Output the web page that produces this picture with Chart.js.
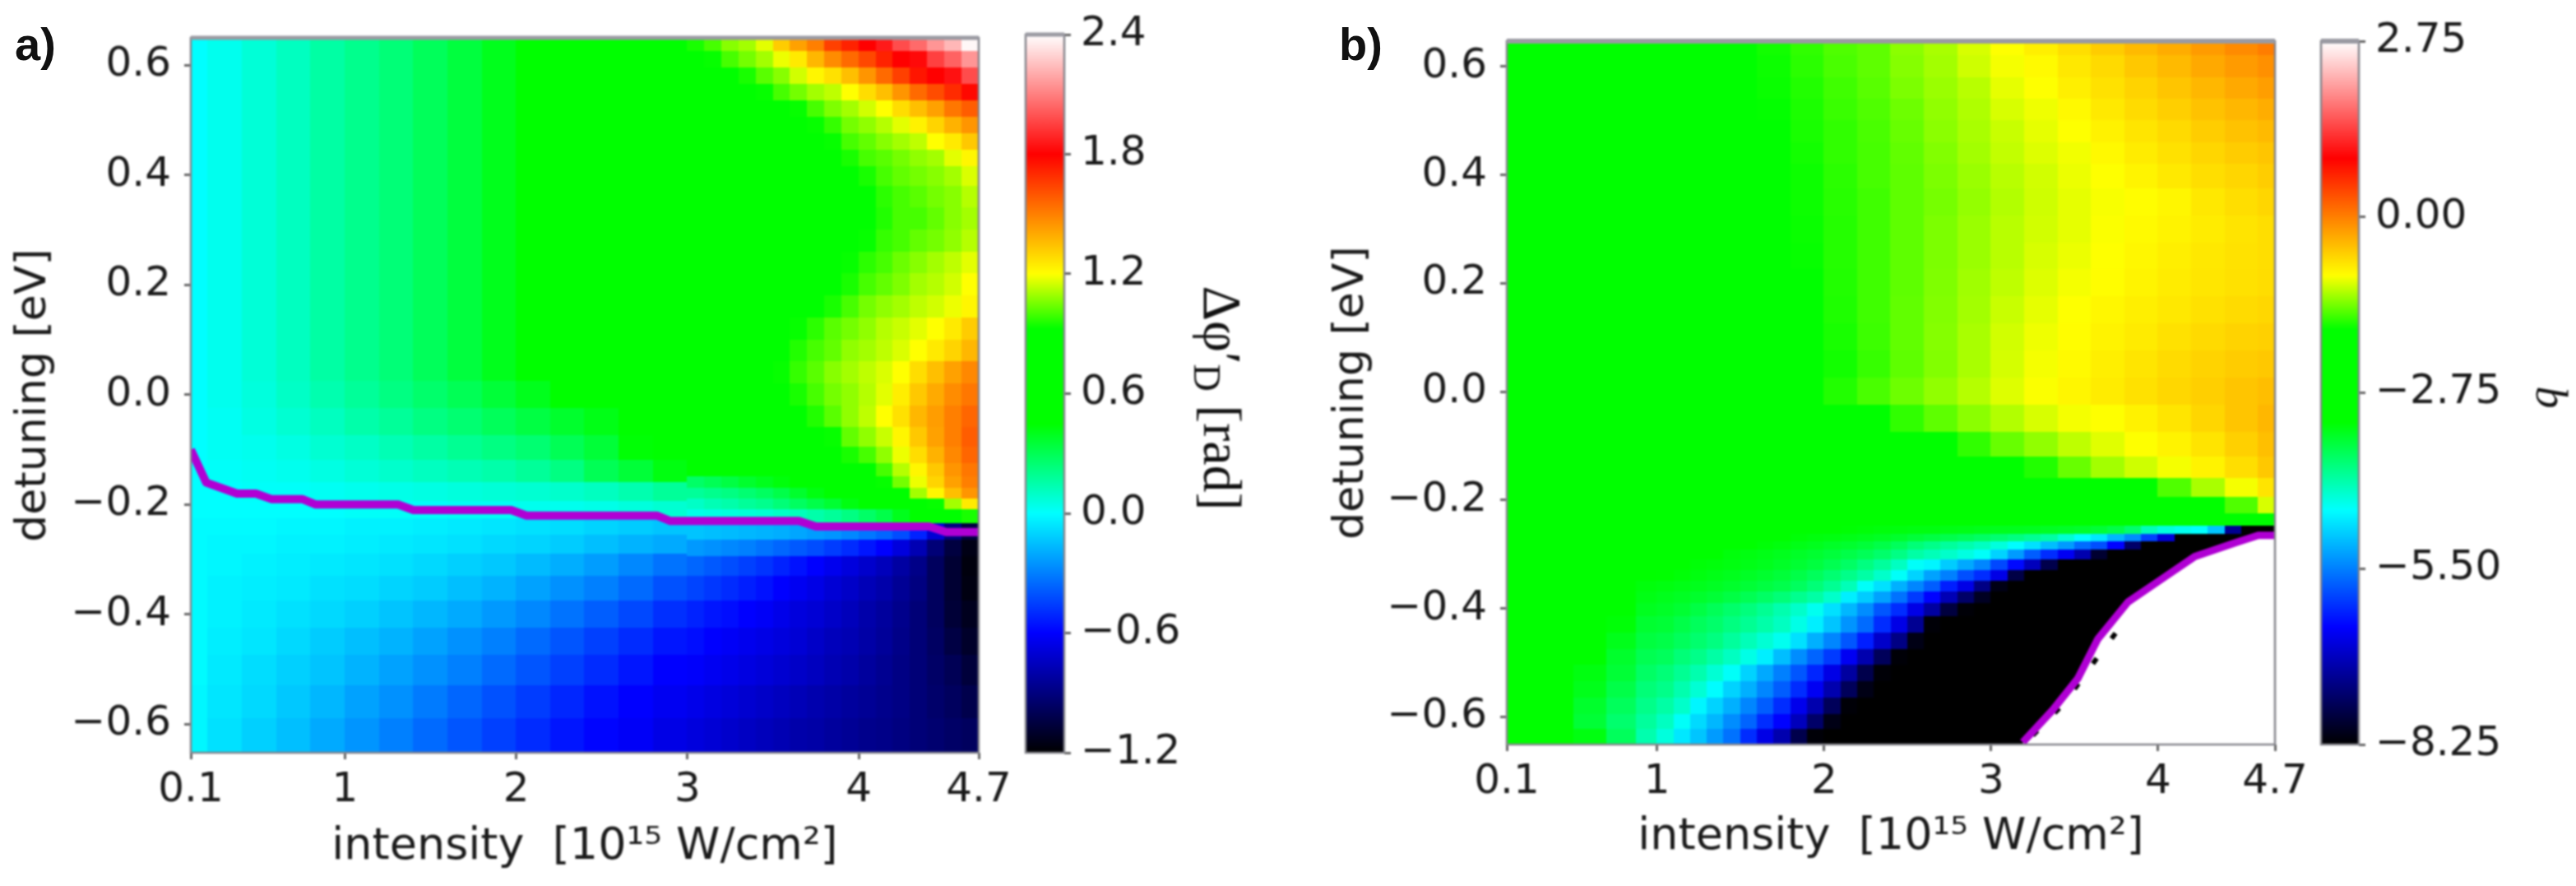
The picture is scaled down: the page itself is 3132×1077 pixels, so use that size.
<!DOCTYPE html>
<html>
<head>
<meta charset="utf-8">
<title>Detuning vs intensity maps</title>
<script src="https://cdn.jsdelivr.net/npm/chart.js@4/dist/chart.umd.min.js"></script>
<style>
  html, body { margin: 0; background: #fff; }
  body { position: relative; width: 3132px; height: 1077px; overflow: hidden; }
  canvas { position: absolute; top: 0; filter: blur(1.1px); }
  .tag { position: absolute; top: 21px; font: bold 56px "Liberation Sans"; color: #111; }
</style>
</head>
<body>
<canvas id="mapA" width="1240" height="1077" style="left:0"></canvas>
<canvas id="barA" width="360" height="1077" style="left:1240px"></canvas>
<canvas id="mapB" width="1216" height="1077" style="left:1600px"></canvas>
<canvas id="barB" width="316" height="1077" style="left:2816px"></canvas>
<div class="tag" style="left:18px">a)</div>
<div class="tag" style="left:1628px">b)</div>
<script>
const intensityTicks = [0.1,1,2,3,4,4.7];
const detuningTicks = [-0.6,-0.4,-0.2,0,0.2,0.4,0.6];
const phiTicks = [-1.2,-0.6,0,0.6,1.2,1.8,2.4];
const bTicks = [-8.25,-5.5,-2.75,0,2.75];

// panel a, left part (read coarser, it is smooth there)
const intensityA1 = [0.1,0.3,0.5,0.7,0.9,1.1,1.3,1.5,1.7,1.9,2.1,2.3,2.5,2.7,2.9];
const detuningA1 = [0.64,0.60,0.56,0.52,0.48,0.44,0.40,0.35,0.30,0.25,0.20,0.15,0.10,0.05,0.00,-0.05,-0.10,-0.14,-0.18,-0.21,-0.24,-0.27,-0.31,-0.35,-0.40,-0.45,-0.50,-0.56,-0.62];
const phiLeftRows = [
[0,.03,.07,.11,.16,.2,.24,.29,.34,.4,.46,.52,.6,.65,.75],
[0,.03,.07,.11,.16,.2,.24,.29,.34,.4,.46,.52,.6,.65,.7],
[0,.03,.07,.11,.16,.2,.24,.29,.34,.4,.46,.52,.6,.65,.7],
[0,.03,.07,.11,.16,.2,.24,.29,.34,.4,.46,.52,.6,.65,.7],
[0,.03,.07,.11,.16,.2,.24,.29,.34,.4,.46,.52,.6,.65,.7],
[0,.03,.07,.11,.16,.2,.24,.29,.34,.4,.46,.52,.6,.65,.7],
[0,.03,.07,.11,.16,.2,.24,.29,.34,.4,.46,.52,.6,.65,.7],
[0,.03,.07,.11,.16,.2,.24,.29,.34,.4,.46,.52,.6,.65,.7],
[0,.03,.07,.11,.16,.2,.24,.29,.34,.4,.46,.52,.6,.65,.7],
[0,.03,.07,.11,.16,.2,.24,.29,.34,.4,.46,.52,.6,.65,.7],
[0,.03,.07,.11,.16,.2,.24,.29,.34,.4,.46,.52,.6,.65,.7],
[0,.03,.07,.11,.16,.2,.24,.29,.34,.4,.46,.52,.6,.65,.7],
[0,.03,.07,.11,.16,.2,.24,.29,.34,.4,.46,.52,.6,.65,.7],
[0,.03,.07,.11,.16,.2,.24,.29,.34,.4,.46,.52,.6,.65,.7],
[0,.03,.06,.1,.14,.18,.22,.26,.3,.35,.4,.45,.5,.6,.65],
[0,.02,.05,.08,.11,.15,.18,.22,.25,.29,.33,.37,.41,.46,.52],
[0,.02,.03,.05,.08,.1,.13,.16,.19,.22,.25,.3,.35,.44,.5],
[0,.01,.02,.03,.05,.07,.09,.11,.13,.15,.18,.22,.3,.35,.42],
[0,0,.01,.01,.02,.03,.04,.05,.06,.07,.08,.09,.11,.14,.18],
[0,0,0,0,0,.01,.01,.01,.02,.02,.03,.03,.04,.06,.08],
[-.01,-.01,-.01,-.02,-.02,-.03,-.03,-.04,-.05,-.06,-.07,-.08,-.1,-.12,-.14],
[-.01,-.02,-.02,-.03,-.03,-.04,-.05,-.06,-.07,-.09,-.1,-.12,-.15,-.18,-.2],
[-.01,-.02,-.03,-.04,-.05,-.06,-.07,-.09,-.11,-.13,-.16,-.19,-.23,-.28,-.33],
[-.01,-.03,-.04,-.05,-.07,-.08,-.1,-.12,-.15,-.18,-.22,-.26,-.3,-.35,-.41],
[-.01,-.03,-.05,-.07,-.09,-.11,-.14,-.17,-.2,-.24,-.28,-.33,-.38,-.43,-.49],
[-.01,-.04,-.06,-.09,-.12,-.15,-.18,-.22,-.26,-.3,-.35,-.4,-.45,-.5,-.55],
[-.01,-.05,-.08,-.11,-.14,-.18,-.22,-.26,-.3,-.35,-.4,-.45,-.5,-.55,-.6],
[-.02,-.06,-.09,-.13,-.17,-.22,-.26,-.31,-.36,-.41,-.46,-.51,-.56,-.6,-.63],
[-.02,-.07,-.11,-.15,-.2,-.25,-.3,-.35,-.4,-.45,-.5,-.55,-.59,-.62,-.66]
];

// panel a, right part, close to the original cell size
const intensityA2 = [3.05,3.15,3.25,3.35,3.45,3.55,3.65,3.75,3.85,3.95,4.05,4.15,4.25,4.35,4.45,4.55,4.65];
const detuningA2 = [0.64,0.61,0.58,0.55,0.52,0.49,0.46,0.43,0.40,0.36,0.32,0.28,0.24,0.20,0.16,0.12,0.08,0.04,0.00,-0.04,-0.08,-0.11,-0.14,-0.16,-0.18,-0.20,-0.22,-0.25,-0.28,-0.31,-0.35,-0.40,-0.45,-0.50,-0.56,-0.62];
const phiRightRows = [
[.95,1,1.07,1.1,1.17,1.32,1.42,1.5,1.65,1.72,1.8,1.86,1.98,2.05,2.15,2.23,2.38],
[.9,.93,1,1.05,1.1,1.18,1.25,1.37,1.47,1.55,1.63,1.72,1.8,1.82,1.95,2.03,2.15],
[.85,.88,.9,.95,1.02,1.07,1.15,1.22,1.27,1.35,1.45,1.55,1.65,1.75,1.8,1.84,1.98],
[.8,.82,.85,.9,.93,1,1.05,1.1,1.13,1.2,1.28,1.35,1.45,1.55,1.62,1.7,1.78],
[.78,.8,.82,.85,.88,.9,.93,1,1.06,1.1,1.15,1.2,1.28,1.35,1.42,1.52,1.58],
[.76,.78,.8,.82,.84,.86,.88,.93,.98,1.05,1.08,1.12,1.17,1.23,1.3,1.38,1.45],
[.74,.76,.78,.8,.82,.84,.86,.88,.93,1,1.03,1.07,1.1,1.13,1.2,1.25,1.33],
[.72,.74,.76,.78,.8,.82,.84,.86,.88,.95,1,1.02,1.05,1.08,1.1,1.17,1.22],
[.72,.74,.76,.78,.8,.82,.84,.86,.88,.9,.95,1,1.03,1.05,1.07,1.1,1.16],
[.7,.72,.74,.76,.78,.8,.82,.84,.86,.88,.92,.97,1,1.02,1.05,1.07,1.12],
[.7,.72,.74,.76,.78,.8,.82,.84,.86,.88,.92,.96,1,1,1.03,1.07,1.1],
[.7,.72,.74,.76,.78,.8,.82,.84,.86,.88,.93,.98,1,1.03,1.05,1.08,1.12],
[.7,.72,.74,.76,.78,.8,.82,.84,.88,.93,.97,1,1.04,1.07,1.1,1.13,1.17],
[.7,.72,.74,.76,.78,.8,.82,.86,.9,.95,1,1.03,1.06,1.1,1.12,1.15,1.2],
[.7,.72,.74,.76,.78,.82,.86,.9,.95,1,1.05,1.08,1.1,1.13,1.15,1.18,1.22],
[.7,.72,.74,.76,.8,.84,.93,.97,1.02,1.05,1.08,1.12,1.14,1.17,1.2,1.25,1.32],
[.7,.72,.74,.78,.82,.88,.96,1,1.03,1.08,1.1,1.13,1.16,1.2,1.25,1.3,1.37],
[.7,.72,.75,.8,.85,.93,.98,1.02,1.07,1.1,1.13,1.16,1.2,1.28,1.35,1.42,1.48],
[.7,.72,.75,.8,.85,.9,.95,1,1.05,1.08,1.12,1.17,1.24,1.33,1.4,1.47,1.52],
[.65,.68,.72,.76,.8,.85,.9,.96,1.02,1.08,1.13,1.2,1.27,1.37,1.43,1.5,1.56],
[.55,.6,.65,.7,.75,.8,.85,.88,.93,1.03,1.08,1.14,1.22,1.33,1.42,1.5,1.58],
[.52,.56,.6,.65,.7,.75,.8,.85,.88,.95,1,1.08,1.18,1.28,1.38,1.48,1.56],
[.45,.48,.5,.55,.6,.65,.7,.75,.8,.85,.9,1,1.12,1.22,1.33,1.45,1.52],
[.27,.3,.33,.37,.4,.43,.5,.6,.7,.8,.88,.93,1.05,1.18,1.3,1.42,1.5],
[.18,.2,.22,.25,.28,.32,.37,.42,.5,.6,.7,.8,.9,1.1,1.22,1.35,1.45],
[.1,.13,.15,.18,.2,.24,.28,.32,.36,.42,.48,.55,.65,.75,.93,1.1,1.25],
[.04,.05,.06,.07,.08,.1,.12,.15,.18,.22,.27,.32,.4,.5,.65,.8,.95],
[-.14,-.15,-.16,-.17,-.18,-.19,-.21,-.23,-.25,-.28,-.32,-.36,-.42,-.52,-.7,-.9,-1.05],
[-.24,-.26,-.28,-.3,-.33,-.36,-.39,-.42,-.46,-.5,-.55,-.6,-.68,-.78,-.92,-1.05,-1.15],
[-.36,-.39,-.42,-.45,-.48,-.52,-.56,-.6,-.64,-.68,-.72,-.76,-.82,-.88,-.98,-1.08,-1.17],
[-.44,-.47,-.5,-.53,-.56,-.6,-.63,-.66,-.7,-.73,-.77,-.8,-.85,-.9,-.98,-1.08,-1.16],
[-.52,-.55,-.57,-.6,-.62,-.65,-.68,-.7,-.73,-.76,-.8,-.83,-.87,-.92,-.98,-1.07,-1.13],
[-.57,-.6,-.62,-.64,-.66,-.68,-.7,-.73,-.76,-.78,-.81,-.84,-.88,-.92,-.97,-1.04,-1.1],
[-.61,-.63,-.65,-.67,-.69,-.71,-.73,-.75,-.78,-.8,-.83,-.86,-.89,-.92,-.96,-1,-1.06],
[-.65,-.67,-.69,-.71,-.73,-.75,-.77,-.79,-.81,-.83,-.85,-.87,-.89,-.92,-.95,-.98,-1.02],
[-.68,-.7,-.72,-.74,-.76,-.78,-.8,-.81,-.83,-.85,-.87,-.88,-.9,-.92,-.94,-.96,-.98]
];

// panel b, upper part
const intensityB1 = [0.1,0.3,0.5,0.7,0.9,1.1,1.3,1.5,1.7,1.9,2.1,2.3,2.5,2.7,2.9,3.1,3.3,3.5,3.7,3.9,4.1,4.3,4.5,4.7];
const detuningB1 = [0.64,0.60,0.56,0.52,0.48,0.44,0.40,0.35,0.30,0.25,0.20,0.15,0.10,0.05,0.00,-0.05,-0.10,-0.14,-0.18,-0.21];
const bUpperRows = [
[-2.9,-2.8,-2.7,-2.6,-2.5,-2.4,-2.2,-1.8,-1.7,-1.6,-1.5,-1.45,-1.3,-1.2,-1.05,-.92,-.8,-.68,-.55,-.42,-.32,-.2,-.08,.02],
[-2.9,-2.8,-2.7,-2.6,-2.5,-2.4,-2.2,-1.85,-1.72,-1.62,-1.52,-1.45,-1.32,-1.22,-1.08,-.95,-.88,-.75,-.65,-.52,-.42,-.3,-.2,-.12],
[-2.9,-2.8,-2.7,-2.6,-2.5,-2.4,-2.2,-1.9,-1.73,-1.65,-1.55,-1.47,-1.35,-1.25,-1.15,-1,-.92,-.8,-.7,-.6,-.5,-.4,-.3,-.22],
[-2.9,-2.8,-2.7,-2.6,-2.5,-2.4,-2.2,-1.95,-1.75,-1.67,-1.57,-1.5,-1.4,-1.28,-1.18,-1.05,-.97,-.87,-.76,-.66,-.57,-.48,-.4,-.33],
[-2.9,-2.8,-2.7,-2.6,-2.5,-2.4,-2.2,-2,-1.77,-1.68,-1.6,-1.52,-1.42,-1.3,-1.2,-1.1,-1,-.92,-.82,-.73,-.65,-.56,-.48,-.42],
[-2.9,-2.8,-2.7,-2.6,-2.5,-2.4,-2.2,-2,-1.8,-1.7,-1.6,-1.53,-1.44,-1.33,-1.22,-1.12,-1.03,-.96,-.87,-.78,-.7,-.62,-.55,-.5],
[-2.9,-2.8,-2.7,-2.6,-2.5,-2.4,-2.2,-2.05,-1.8,-1.72,-1.62,-1.53,-1.45,-1.35,-1.25,-1.15,-1.07,-.98,-.92,-.84,-.76,-.68,-.62,-.56],
[-2.9,-2.8,-2.7,-2.6,-2.5,-2.4,-2.2,-2.05,-1.8,-1.72,-1.63,-1.55,-1.45,-1.37,-1.27,-1.17,-1.08,-1,-.94,-.9,-.85,-.75,-.68,-.62],
[-2.9,-2.8,-2.7,-2.6,-2.5,-2.4,-2.2,-2.05,-1.82,-1.73,-1.64,-1.55,-1.45,-1.35,-1.25,-1.15,-1.07,-1,-.93,-.88,-.83,-.78,-.72,-.68],
[-2.9,-2.8,-2.7,-2.6,-2.5,-2.4,-2.2,-2.1,-1.84,-1.74,-1.64,-1.55,-1.45,-1.35,-1.25,-1.15,-1.05,-.98,-.92,-.86,-.8,-.75,-.71,-.68],
[-2.9,-2.8,-2.7,-2.6,-2.5,-2.4,-2.3,-2.2,-1.86,-1.76,-1.65,-1.55,-1.45,-1.34,-1.23,-1.13,-1.03,-.95,-.9,-.84,-.78,-.74,-.7,-.67],
[-2.9,-2.8,-2.7,-2.6,-2.5,-2.4,-2.3,-2.3,-1.9,-1.78,-1.66,-1.55,-1.44,-1.33,-1.22,-1.1,-1,-.92,-.86,-.8,-.75,-.7,-.66,-.63],
[-2.9,-2.8,-2.8,-2.7,-2.6,-2.5,-2.4,-2.4,-2,-1.8,-1.68,-1.56,-1.44,-1.32,-1.2,-1.07,-.97,-.9,-.83,-.77,-.7,-.65,-.6,-.58],
[-2.9,-2.8,-2.8,-2.8,-2.7,-2.6,-2.5,-2.4,-2.1,-1.85,-1.7,-1.58,-1.45,-1.33,-1.2,-1.06,-.95,-.88,-.8,-.73,-.66,-.6,-.55,-.52],
[-2.9,-2.8,-2.8,-2.8,-2.8,-2.8,-2.8,-2.6,-2.3,-1.85,-1.65,-1.52,-1.4,-1.28,-1.16,-1.03,-.93,-.85,-.78,-.7,-.63,-.57,-.5,-.45],
[-2.9,-2.8,-2.8,-2.8,-2.8,-2.8,-2.8,-2.8,-2.6,-2.3,-2,-1.78,-1.6,-1.45,-1.3,-1.17,-1.05,-.95,-.92,-.82,-.73,-.62,-.5,-.4],
[-2.9,-2.8,-2.8,-2.8,-2.8,-2.8,-2.8,-2.8,-2.8,-2.8,-2.6,-2.3,-2,-1.78,-1.6,-1.42,-1.28,-1.13,-1.02,-.92,-.83,-.72,-.58,-.46],
[-2.9,-2.8,-2.8,-2.8,-2.8,-2.8,-2.8,-2.8,-2.8,-2.8,-2.8,-2.8,-2.7,-2.4,-2.1,-1.85,-1.65,-1.42,-1.22,-1.08,-.95,-.83,-.68,-.52],
[-2.9,-2.8,-2.8,-2.8,-2.8,-2.8,-2.8,-2.8,-2.8,-2.8,-2.8,-2.8,-2.8,-2.8,-2.8,-2.7,-2.5,-2.2,-2,-1.8,-1.5,-1.2,-.95,-.72],
[-2.9,-2.9,-2.9,-2.9,-2.9,-2.9,-2.9,-2.9,-2.9,-2.9,-2.9,-2.9,-2.9,-2.9,-2.9,-2.9,-2.9,-2.9,-2.9,-2.7,-2.4,-2,-1.5,-1.05]
];

// panel b, lower part. A row stops where the map reaches the floor of the scale,
// the rest of that row is black up to the right axis
const intensityB2 = [0.2,0.4,0.6,0.8,0.95,1.05,1.15,1.25,1.35,1.45,1.55,1.65,1.75,1.85,1.95,2.05,2.15,2.25,2.35,2.45,2.55,2.65,2.75,2.85,2.95,3.05,3.15,3.25,3.35,3.45,3.55,3.65,3.75,3.85,3.95,4.05,4.15,4.25,4.35,4.45,4.55,4.65];
const detuningB2 = [-0.24,-0.255,-0.27,-0.285,-0.30,-0.32,-0.34,-0.36,-0.38,-0.40,-0.43,-0.46,-0.49,-0.52,-0.55,-0.58,-0.61,-0.635];
const bLowerRows = [
[-2.9,-2.9,-2.9,-2.9,-2.9,-2.9,-2.9,-2.9,-2.9,-2.9,-2.9,-2.9,-2.9,-2.9,-2.9,-2.9,-2.9,-2.9,-2.9,-2.9,-2.9,-2.9,-2.9,-2.9,-2.9,-2.9,-2.9,-2.9,-2.9,-2.9,-2.9,-2.9,-2.9,-2.9,-2.9,-2.9,-2.9,-2.9,-2.9,-2.7,-2.4,-2],
[-2.9,-2.9,-2.9,-2.9,-2.9,-2.9,-2.9,-2.9,-2.9,-2.9,-2.9,-2.9,-2.9,-2.9,-2.9,-3.21,-3.23,-3.25,-3.27,-3.28,-3.3,-3.3,-3.32,-3.33,-3.35,-3.36,-3.37,-3.38,-3.4,-3.42,-3.45,-3.5,-3.6,-3.8,-4.2,-4.4,-4.5,-4.58,-5,-7.2],
[-2.9,-2.9,-2.9,-2.9,-2.9,-2.9,-2.9,-2.9,-2.9,-2.9,-2.9,-2.9,-3.2,-3.25,-3.28,-3.3,-3.33,-3.36,-3.4,-3.45,-3.52,-3.57,-3.62,-3.68,-3.75,-3.82,-3.9,-4,-4.1,-4.35,-4.58,-4.75,-5.1,-5.4,-5.95,-6.7],
[-2.9,-2.9,-2.9,-2.9,-2.9,-2.9,-2.9,-2.9,-2.9,-2.9,-3.21,-3.25,-3.28,-3.33,-3.37,-3.42,-3.46,-3.52,-3.6,-3.7,-3.85,-3.95,-4.05,-4.15,-4.25,-4.4,-4.6,-4.8,-5.05,-5.3,-5.65,-5.85,-6.4,-7.5],
[-2.9,-2.9,-2.9,-2.9,-2.9,-2.9,-2.9,-2.9,-3.2,-3.27,-3.3,-3.33,-3.37,-3.42,-3.47,-3.53,-3.6,-3.68,-3.78,-3.92,-4.1,-4.2,-4.3,-4.42,-4.55,-4.9,-5.3,-5.75,-6.1,-6.5,-7,-7.9],
[-2.9,-2.9,-2.9,-2.9,-2.9,-2.9,-3,-3.25,-3.27,-3.3,-3.33,-3.37,-3.42,-3.48,-3.55,-3.65,-3.75,-3.9,-4.05,-4.25,-4.55,-4.65,-4.95,-5.2,-5.45,-5.9,-6.35,-6.9,-7.7],
[-2.9,-2.9,-2.9,-2.9,-3.2,-3.22,-3.25,-3.29,-3.33,-3.37,-3.41,-3.46,-3.52,-3.6,-3.7,-3.82,-3.95,-4.1,-4.3,-4.55,-4.9,-5.25,-5.5,-5.85,-6.1,-6.6,-7.75],
[-2.9,-2.9,-2.9,-2.95,-3.27,-3.3,-3.33,-3.36,-3.4,-3.45,-3.5,-3.56,-3.62,-3.72,-3.85,-4,-4.2,-4.55,-4.8,-5.15,-5.45,-5.75,-6.2,-6.6,-7.3,-8.1],
[-2.9,-2.9,-2.9,-3.05,-3.32,-3.36,-3.4,-3.45,-3.5,-3.58,-3.66,-3.75,-3.85,-3.98,-4.1,-4.3,-4.7,-4.95,-5.25,-5.6,-6,-6.4,-6.95,-7.5,-8],
[-2.9,-2.9,-2.9,-3.15,-3.38,-3.42,-3.48,-3.58,-3.68,-3.78,-3.88,-4,-4.15,-4.3,-4.5,-4.8,-5.1,-5.4,-5.8,-6.1,-6.6,-7.1,-7.8,-8.2],
[-2.9,-2.9,-3,-3.25,-3.47,-3.5,-3.6,-3.7,-3.78,-3.9,-4,-4.12,-4.25,-4.45,-4.7,-5,-5.35,-5.65,-6.1,-6.6,-7.2,-8.2],
[-2.9,-2.9,-3.1,-3.35,-3.55,-3.6,-3.7,-3.8,-3.9,-4.05,-4.2,-4.35,-4.5,-4.8,-5.15,-5.45,-5.8,-6.2,-6.8,-7.3,-8.1],
[-2.9,-2.9,-3.2,-3.45,-3.65,-3.7,-3.85,-3.95,-4.1,-4.25,-4.45,-4.7,-5.05,-5.4,-5.7,-6,-6.5,-7,-7.6,-8.2],
[-2.9,-2.95,-3.3,-3.5,-3.75,-3.85,-4,-4.15,-4.35,-4.55,-4.9,-5.2,-5.5,-5.8,-6.15,-6.6,-7.1,-7.7,-8.2],
[-2.9,-3,-3.35,-3.6,-3.85,-3.95,-4.15,-4.35,-4.6,-4.9,-5.15,-5.45,-5.75,-6.1,-6.5,-7,-7.6,-8.1],
[-2.9,-3,-3.45,-3.7,-3.95,-4.1,-4.3,-4.65,-4.9,-5.15,-5.45,-5.75,-6.1,-6.55,-7,-7.6,-8.2],
[-2.9,-3.1,-3.5,-3.8,-4.05,-4.25,-4.55,-4.85,-5.1,-5.4,-5.7,-6.1,-6.4,-6.9,-7.5,-8.1],
[-3,-3.1,-3.3,-3.7,-4.15,-4.4,-4.75,-5,-5.3,-5.6,-6.1,-6.6,-7,-7.7,-8.2]
];

// magenta contours and the dashed black one next to it in b
const lineAI = [0.1,0.19,0.37,0.48,0.57,0.75,0.83,1.31,1.4,1.97,2.06,2.82,2.9,3.65,3.75,4.41,4.51,4.7];
const lineAD = [-0.10,-0.16,-0.18,-0.18,-0.19,-0.19,-0.20,-0.20,-0.21,-0.21,-0.22,-0.22,-0.23,-0.23,-0.24,-0.24,-0.25,-0.25];
const lineBI = [3.19,3.37,3.52,3.64,3.82,4.02,4.22,4.47,4.6,4.7];
const lineBD = [-0.647,-0.587,-0.529,-0.456,-0.388,-0.346,-0.304,-0.278,-0.265,-0.265];
const dashBI = [3.25,3.44,3.63,3.83];
const dashBD = [-0.634,-0.574,-0.493,-0.411];

// colour map, position along the colour bar 0..1
const cmapPos = [0,1/6,1/3,0.458,0.59,2/3,5/6,1];
const cmapRGB = [[0,0,0],[0,0,255],[0,255,255],[0,255,0],[0,255,0],[255,255,0],[255,0,0],[255,255,255]];

const tickFont = { family: 'DejaVu Sans', size: 50 };
const MAGENTA = '#b000d4';

function colorAt(t) {
  t = Math.min(1, Math.max(0, t));
  let i = 0;
  while (i < cmapPos.length - 2 && t > cmapPos[i + 1]) i++;
  const f = (t - cmapPos[i]) / (cmapPos[i + 1] - cmapPos[i]);
  const c = cmapRGB[i].map((a, k) => Math.round(a + (cmapRGB[i + 1][k] - a) * f));
  return `rgb(${c[0]},${c[1]},${c[2]})`;
}

// edges half way between neighbouring grid values, ends given by the block limits
function edges(centers, lo, hi) {
  const out = [lo];
  for (let i = 0; i < centers.length - 1; i++) out.push((centers[i] + centers[i + 1]) / 2);
  out.push(hi);
  return out;
}

const label = v => String(v).replace('-', '\u2212');
const fixedTicks = list => scale => { scale.ticks = list.map(value => ({ value })); };

const heatPlugin = {
  id: 'heat',
  beforeDatasetsDraw(chart, args, opts) {
    const { ctx, scales: { x, y } } = chart;
    const tone = v => colorAt((v - opts.min) / (opts.max - opts.min));
    opts.blocks.forEach(b => {
      const xe = edges(b.cols, b.xLo, b.xHi);
      const ye = edges(b.dets, b.yTop, b.yBottom);
      b.rows.forEach((row, r) => {
        const y0 = Math.floor(y.getPixelForValue(ye[r]));
        const y1 = Math.ceil(y.getPixelForValue(ye[r + 1]));
        row.forEach((v, c) => {
          const x0 = Math.floor(x.getPixelForValue(xe[c]));
          const x1 = Math.ceil(x.getPixelForValue(xe[c + 1]));
          ctx.fillStyle = tone(v);
          ctx.fillRect(x0, y0, x1 - x0, y1 - y0);
        });
        if (row.length < b.cols.length) {
          const x0 = Math.floor(x.getPixelForValue(xe[row.length]));
          ctx.fillStyle = tone(opts.min);
          ctx.fillRect(x0, y0, Math.ceil(x.getPixelForValue(b.xHi)) - x0, y1 - y0);
        }
      });
    });
  }
};

// colour bar fill, stops placed with the bar's own value scale
const barPlugin = {
  id: 'bar',
  beforeDatasetsDraw(chart) {
    const { ctx, chartArea: a, scales: { y } } = chart;
    const g = ctx.createLinearGradient(0, y.getPixelForValue(y.min), 0, y.getPixelForValue(y.max));
    cmapPos.forEach((p, i) => g.addColorStop(p, `rgb(${cmapRGB[i].join(',')})`));
    ctx.fillStyle = g;
    ctx.fillRect(a.left, a.top, a.right - a.left, a.bottom - a.top);
  }
};

const framePlugin = {
  id: 'frame',
  afterDatasetsDraw(chart, args, opts) {
    const { ctx, chartArea: a } = chart;
    ctx.save();
    ctx.strokeStyle = '#85858c';
    ctx.lineWidth = 2.5;
    ctx.strokeRect(a.left, a.top, a.right - a.left, a.bottom - a.top);
    ctx.lineWidth = opts.top;
    ctx.strokeStyle = '#9a9aa2';
    ctx.beginPath();
    ctx.moveTo(a.left, a.top);
    ctx.lineTo(a.right, a.top);
    ctx.stroke();
    ctx.restore();
  }
};

// rotated colour bar label, drawn in pieces so the subscript can sit lower
const sideLabelPlugin = {
  id: 'sideLabel',
  afterDraw(chart, args, opts) {
    const { ctx } = chart;
    ctx.save();
    ctx.fillStyle = '#111';
    ctx.textBaseline = 'alphabetic';
    let total = 0;
    opts.parts.forEach(p => { ctx.font = p.font; total += ctx.measureText(p.text).width; });
    ctx.translate(opts.x, opts.y);
    ctx.rotate(Math.PI / 2);
    let pen = -total / 2;
    opts.parts.forEach(p => {
      ctx.font = p.font;
      ctx.fillText(p.text, pen, p.drop || 0);
      pen += ctx.measureText(p.text).width;
    });
    ctx.restore();
  }
};

function xy(xs, ys) { return xs.map((x, i) => ({ x, y: ys[i] })); }

function makeMap(id, cfg) {
  return new Chart(document.getElementById(id), {
    type: 'line',
    data: { datasets: cfg.datasets },
    plugins: [heatPlugin, framePlugin],
    options: {
      responsive: false,
      animation: false,
      events: [],
      layout: { padding: { left: 0, right: 50, top: cfg.top, bottom: 0 } },
      elements: { point: { radius: 0 }, line: { tension: 0 } },
      plugins: {
        legend: { display: false },
        tooltip: { enabled: false },
        heat: { blocks: cfg.blocks, min: cfg.min, max: cfg.max },
        frame: { top: cfg.topLine }
      },
      scales: {
        x: {
          type: 'linear', min: 0.1, max: 4.7,
          afterBuildTicks: fixedTicks(intensityTicks),
          afterFit: s => { s.height = 1077 - cfg.bottom; },
          grid: { drawOnChartArea: false, tickLength: 8, color: '#666', lineWidth: 3 },
          border: { display: false },
          ticks: { font: tickFont, color: '#1a1a1a', padding: 8, autoSkip: false, maxRotation: 0, callback: label },
          title: { display: true, text: 'intensity  [10\u00b9\u2075 W/cm\u00b2]', font: { family: 'DejaVu Sans', size: 54 }, color: '#1a1a1a', padding: { top: 0, bottom: cfg.xTitlePad } }
        },
        y: {
          type: 'linear', min: cfg.yMin, max: cfg.yMax,
          afterBuildTicks: fixedTicks(detuningTicks),
          afterFit: s => { s.width = 232; },
          grid: { drawOnChartArea: false, tickLength: 8, color: '#666', lineWidth: 3 },
          border: { display: false },
          ticks: { font: tickFont, color: '#1a1a1a', padding: 16, autoSkip: false, callback: v => label(v.toFixed(1)) },
          title: { display: true, text: 'detuning [eV]', font: { family: 'DejaVu Sans', size: 52 }, color: '#1a1a1a', padding: { top: cfg.yTitlePad, bottom: 0 } }
        }
      }
    }
  });
}

function makeBar(id, cfg) {
  return new Chart(document.getElementById(id), {
    type: 'line',
    data: { datasets: [{ data: [] }] },
    plugins: [barPlugin, framePlugin, sideLabelPlugin],
    options: {
      responsive: false,
      animation: false,
      events: [],
      layout: { padding: { left: cfg.left, right: 0, top: cfg.top, bottom: 1077 - cfg.bottom } },
      plugins: {
        legend: { display: false },
        tooltip: { enabled: false },
        frame: { top: cfg.topLine },
        sideLabel: cfg.side
      },
      scales: {
        x: { type: 'linear', display: false, min: 0, max: 1 },
        y: {
          type: 'linear', position: 'right', min: cfg.min, max: cfg.max,
          afterBuildTicks: fixedTicks(cfg.ticks),
          afterFit: s => { s.width = cfg.width - cfg.right; },
          grid: { drawOnChartArea: false, tickLength: 8, color: '#666', lineWidth: 3 },
          border: { display: false },
          ticks: { font: tickFont, color: '#1a1a1a', padding: 12, autoSkip: false, callback: v => label(v.toFixed(cfg.digits)) }
        }
      }
    }
  });
}

makeMap('mapA', {
  min: -1.2, max: 2.4,
  blocks: [
    { cols: intensityA1, dets: detuningA1, rows: phiLeftRows, xLo: 0.1, xHi: 3.0, yTop: 0.65, yBottom: -0.652 },
    { cols: intensityA2, dets: detuningA2, rows: phiRightRows, xLo: 3.0, xHi: 4.7, yTop: 0.65, yBottom: -0.652 }
  ],
  top: 40, bottom: 915, topLine: 5,
  yMin: -0.652, yMax: 0.65,
  xTitlePad: 15, yTitlePad: 10,
  datasets: [
    { data: xy(lineAI, lineAD), borderColor: MAGENTA, borderWidth: 10, borderJoinStyle: 'round', fill: false }
  ]
});

makeMap('mapB', {
  min: -8.25, max: 2.75,
  blocks: [
    { cols: intensityB1, dets: detuningB1, rows: bUpperRows, xLo: 0.1, xHi: 4.7, yTop: 0.647, yBottom: -0.225 },
    { cols: intensityB2, dets: detuningB2, rows: bLowerRows, xLo: 0.1, xHi: 4.7, yTop: -0.225, yBottom: -0.651 }
  ],
  top: 50, bottom: 905, topLine: 6,
  yMin: -0.651, yMax: 0.647,
  xTitlePad: 27, yTitlePad: 12,
  datasets: [
    { data: xy(lineBI, lineBD), borderColor: MAGENTA, borderWidth: 9, borderJoinStyle: 'round', fill: false, order: 1 },
    { data: xy(dashBI, dashBD), borderColor: '#000', borderWidth: 6, borderDash: [8, 30], fill: false, order: 2 },
    // the part of b without values is left white under the contour
    { data: xy(lineBI, lineBD), borderWidth: 0, borderColor: 'rgba(0,0,0,0)', backgroundColor: '#fff', fill: 'start', order: 3 }
  ]
});

makeBar('barA', {
  min: -1.2, max: 2.4, ticks: phiTicks, digits: 1,
  left: 7, right: 54, width: 360, top: 40, bottom: 915, topLine: 5,
  side: {
    x: 224, y: 484,
    parts: [
      { text: '\u0394\u03c6\u2032', font: '66px "Liberation Serif"' },
      { text: 'D', font: '46px "Liberation Serif"', drop: 12 },
      { text: ' [rad]', font: '66px "Liberation Serif"' }
    ]
  }
});

makeBar('barB', {
  min: -8.25, max: 2.75, ticks: bTicks, digits: 2,
  left: 6, right: 52, width: 316, top: 50, bottom: 905, topLine: 6,
  side: {
    x: 268, y: 483,
    parts: [{ text: 'b', font: 'italic 54px "Liberation Serif"' }]
  }
});
</script>
</body>
</html>
